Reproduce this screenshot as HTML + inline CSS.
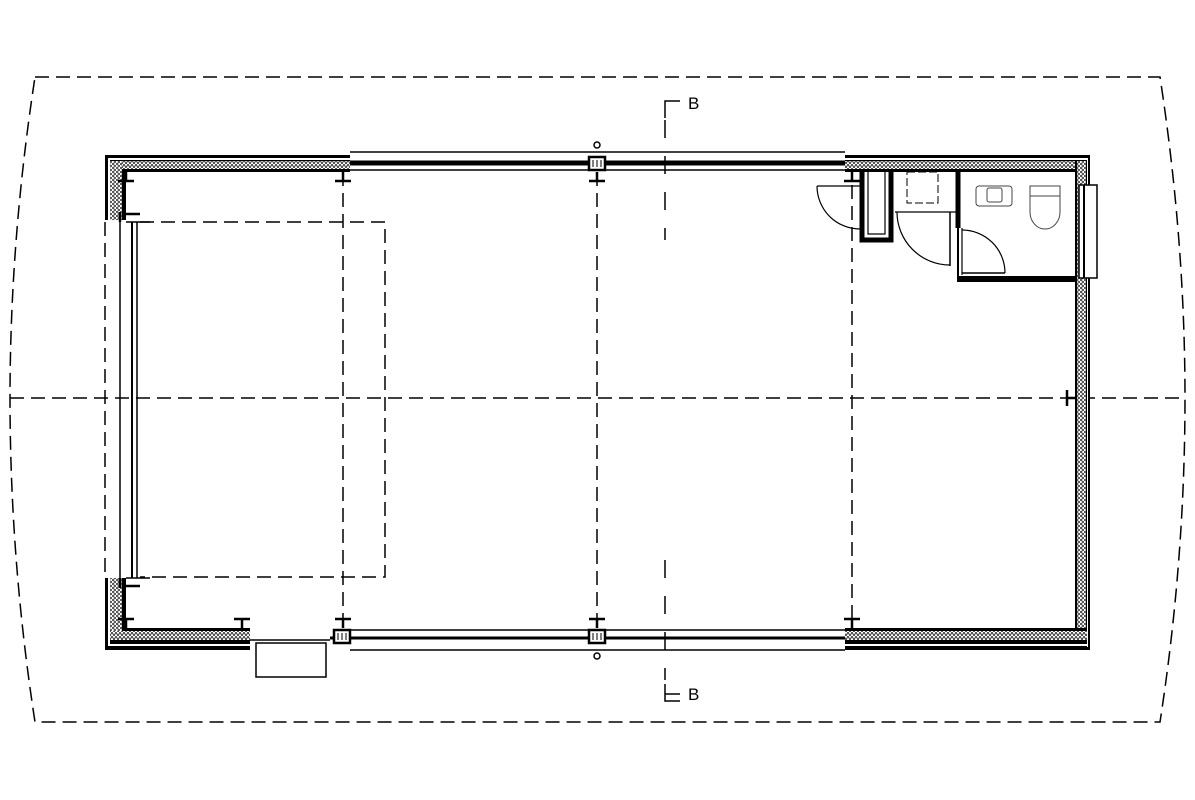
<!DOCTYPE html>
<html><head><meta charset="utf-8"><style>html,body{margin:0;padding:0;background:#fff}svg{display:block}</style></head>
<body>
<svg width="1195" height="800" viewBox="0 0 1195 800" xmlns="http://www.w3.org/2000/svg" font-family="Liberation Sans, sans-serif">
<defs>
<pattern id="ins" width="4" height="4" patternUnits="userSpaceOnUse">
<rect width="4" height="4" fill="#fff"/>
<path d="M0 0L2 4L4 0" stroke="#222" stroke-width="0.9" fill="none"/>
</pattern>
<pattern id="insv" width="4" height="4" patternUnits="userSpaceOnUse">
<rect width="4" height="4" fill="#fff"/>
<path d="M0 0L4 2L0 4" stroke="#222" stroke-width="0.9" fill="none"/>
</pattern>
</defs>
<g fill="none" stroke="#000">
<path d="M35 77 L1160 77 Q1185 240 1185 398 Q1185 560 1160 722 L35 722 Q10 560 10 398 Q10 240 35 77 Z" stroke-width="1.5" stroke-dasharray="14,7"/>
<line x1="10" y1="398" x2="1185" y2="398" stroke-width="1.5" stroke-dasharray="14,7"/>
<line x1="343" y1="172" x2="343" y2="630" stroke-width="1.5" stroke-dasharray="14,7"/>
<line x1="597" y1="172" x2="597" y2="630" stroke-width="1.5" stroke-dasharray="14,7"/>
<line x1="852" y1="185" x2="852" y2="630" stroke-width="1.5" stroke-dasharray="14,7"/>
<line x1="105" y1="222" x2="105" y2="577" stroke-width="1.5" stroke-dasharray="14,7"/>
<path d="M140 222 L385 222 L385 577 L140 577" stroke-width="1.5" stroke-dasharray="14,7"/>
<line x1="665" y1="120" x2="665" y2="240" stroke-width="1.5" stroke-dasharray="18,18"/>
<line x1="665" y1="560" x2="665" y2="680" stroke-width="1.5" stroke-dasharray="18,18"/>
<path d="M665 118 L665 101 L680 101" stroke-width="1.5"/>
<path d="M665 684 L665 701 L680 701 M665 694 L680 694" stroke-width="1.5"/>
</g>
<text x="688" y="109" font-size="17">B</text>
<text x="688" y="700" font-size="17">B</text>

<g stroke="#000">
<path d="M105 155 L350 155 L350 172 L126 172 L126 220 L105 220 Z" fill="#000" stroke="none"/>
<rect x="108" y="158" width="242" height="2" fill="#fff" stroke="none"/>
<rect x="110" y="161" width="240" height="8" fill="url(#ins)" stroke="none"/>
<rect x="110" y="161" width="12" height="59" fill="url(#insv)" stroke="none"/>
<rect x="108" y="158" width="2" height="62" fill="#fff" stroke="none"/>
<path d="M105 578 L126 578 L126 628 L250 628 L250 650 L105 650 Z" fill="#000" stroke="none"/>
<rect x="108" y="644" width="142" height="2" fill="#fff" stroke="none"/>
<rect x="108" y="578" width="2" height="68" fill="#fff" stroke="none"/>
<rect x="110" y="578" width="12" height="62" fill="url(#insv)" stroke="none"/>
<rect x="110" y="631" width="140" height="9" fill="url(#ins)" stroke="none"/>
<path d="M845 155 L1090 155 L1090 650 L845 650 L845 628 L1075 628 L1075 172 L845 172 Z" fill="#000" stroke="none"/>
<rect x="845" y="158" width="242" height="2" fill="#fff" stroke="none"/>
<rect x="845" y="161" width="230" height="8" fill="url(#ins)" stroke="none"/>
<rect x="1077" y="161" width="9" height="467" fill="url(#insv)" stroke="none"/>
<rect x="1087" y="158" width="1" height="489" fill="#fff" stroke="none"/>
<rect x="845" y="631" width="242" height="9" fill="url(#ins)" stroke="none"/>
<rect x="845" y="644" width="242" height="2" fill="#fff" stroke="none"/>
<rect x="1079" y="185" width="18" height="93" fill="#fff" stroke-width="1.5"/>
<line x1="1084" y1="185" x2="1084" y2="278" stroke-width="2"/>
</g>
<g stroke="#000" fill="none">
<line x1="350" y1="152" x2="845" y2="152" stroke-width="1.5"/>
<line x1="350" y1="163" x2="845" y2="163" stroke-width="5"/>
<line x1="350" y1="170" x2="845" y2="170" stroke-width="1.5"/>
<line x1="345" y1="630" x2="845" y2="630" stroke-width="1.5"/>
<line x1="330" y1="638" x2="845" y2="638" stroke-width="3"/>
<line x1="350" y1="650" x2="845" y2="650" stroke-width="1.5"/>
<line x1="250" y1="640" x2="330" y2="640" stroke-width="1.5"/>
<rect x="256" y="643" width="70" height="34" stroke-width="1.5"/>
<line x1="120" y1="222" x2="120" y2="578" stroke-width="1.5"/>
<line x1="132" y1="222" x2="132" y2="578" stroke-width="2"/>
<line x1="137" y1="222" x2="137" y2="578" stroke-width="1.5"/>
<line x1="126" y1="222" x2="150" y2="222" stroke-width="1.5"/>
<line x1="126" y1="578" x2="150" y2="578" stroke-width="1.5"/>
</g>
<g stroke="#000" stroke-width="2.5" fill="#fff">
<rect x="589" y="157" width="16" height="13"/>
<rect x="334" y="630" width="16" height="13"/>
<rect x="589" y="630" width="16" height="13"/>
</g>
<g stroke="#000" stroke-width="1" fill="none">
<path d="M593 160 L593 167 M597 160 L597 167 M601 160 L601 167"/>
<path d="M338 633 L338 640 M342 633 L342 640 M346 633 L346 640"/>
<path d="M593 633 L593 640 M597 633 L597 640 M601 633 L601 640"/>
<circle cx="597" cy="145" r="3" stroke-width="1.5"/>
<circle cx="597" cy="656" r="3" stroke-width="1.5"/>
</g>
<g stroke="#000" stroke-width="2.5" fill="none">
<path d="M118 181 L134 181 M126 172 L126 181"/>
<path d="M335 181 L351 181 M343 172 L343 181"/>
<path d="M589 181 L605 181 M597 172 L597 181"/>
<path d="M844 181 L860 181 M852 172 L852 181"/>
<path d="M118 619 L134 619 M126 628 L126 619"/>
<path d="M234 619 L250 619 M242 628 L242 619"/>
<path d="M335 619 L351 619 M343 628 L343 619"/>
<path d="M589 619 L605 619 M597 628 L597 619"/>
<path d="M844 619 L860 619 M852 628 L852 619"/>
<path d="M1067 390 L1067 406 M1075 398 L1067 398"/>
<path d="M120 212 L120 222 M122 214 L140 214"/>
<path d="M120 588 L120 578 M122 586 L140 586"/>
</g>
<g stroke="#000" fill="none">
<path d="M862 172 L862 240 L891 240 L891 172" stroke-width="5"/>
<path d="M868 172 L868 234 L885 234 L885 172" stroke-width="1.2"/>
<rect x="907" y="172" width="31" height="31" stroke-width="1" stroke-dasharray="8,3"/>
<line x1="895" y1="212" x2="957" y2="212" stroke-width="1.2"/>
<path d="M958 172 L958 228" stroke-width="5"/>
<path d="M958 228 L958 282" stroke-width="2"/>
<path d="M958 279 L1077 279" stroke-width="6"/>
<line x1="962" y1="228" x2="962" y2="275" stroke-width="1.2"/>
<line x1="817" y1="186" x2="860" y2="186" stroke-width="1.2"/>
<path d="M817 186 A43 43 0 0 0 860 229" stroke-width="1.2"/>
<line x1="950" y1="212" x2="950" y2="266" stroke-width="1.5"/>
<path d="M897 212 A53 53 0 0 0 950 265" stroke-width="1.2"/>
<line x1="962" y1="273" x2="1005" y2="273" stroke-width="1.5"/>
<path d="M962 230 A43 43 0 0 1 1005 273" stroke-width="1.2"/>
<rect x="976" y="186" width="36" height="20" rx="3" stroke-width="1" stroke="#444"/>
<rect x="987" y="188" width="15" height="14" rx="2" stroke-width="1" stroke="#444"/>
<path d="M1030 186 L1060 186 L1060 212 A15 17 0 0 1 1030 212 Z" stroke-width="1" stroke="#444"/>
<line x1="1030" y1="196" x2="1060" y2="196" stroke-width="1" stroke="#444"/>
</g>
</svg>
</body></html>
